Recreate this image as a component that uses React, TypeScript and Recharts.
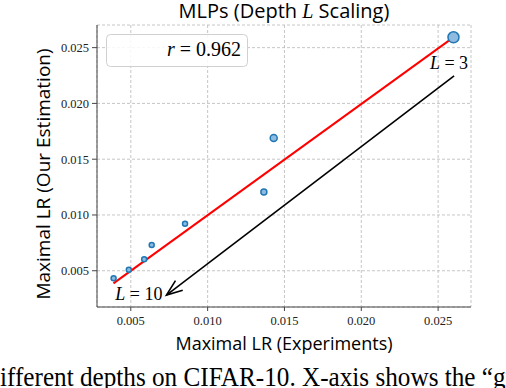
import React from 'react';
import {
  ScatterChart,
  Scatter,
  XAxis,
  YAxis,
  CartesianGrid,
  ReferenceLine,
  ReferenceArea,
  Label,
} from 'recharts';

// Measured depths L = 3 .. 10
const depths = [3, 4, 5, 6, 7, 8, 9, 10];
const lrExperiments = [0.026, 0.0143, 0.01366, 0.00853, 0.00636, 0.00587, 0.00487, 0.00388];
const lrEstimated = [0.02593, 0.0169, 0.01206, 0.00922, 0.0073, 0.00602, 0.00509, 0.00432];

// linear fit (red)
const fitX = [0.00387, 0.02597];
const fitY = [0.00387, 0.0259];

// depth arrow: from L = 3 to L = 10
const arrowX = [0.02604, 0.00732];
const arrowY = [0.02246, 0.00282];

const xTicks = [0.005, 0.01, 0.015, 0.02, 0.025];
const yTicks = [0.005, 0.01, 0.015, 0.02, 0.025];

const pearsonR = '0.962';

const points = depths.map((d, i) => ({ depth: d, x: lrExperiments[i], y: lrEstimated[i] }));

const SERIF = '"Liberation Serif", "DejaVu Serif", serif';
const SANS = '"Open Sans", Lato, "DejaVu Sans", sans-serif';

const tickFmt = (v: number) => v.toFixed(3);

const Marker = (props: any) => {
  const { cx, cy, index } = props;
  const r = index === 0 ? 5.5 : index === 1 ? 3.5 : index === 2 ? 3 : 2.5;
  return (
    <g>
      <circle cx={cx} cy={cy} r={r} fill="#8fbbe0" stroke="#1f77b4" strokeWidth={1.5} />
    </g>
  );
};

const ArrowShape = (props: any) => {
  const { x1, y1, x2, y2 } = props;
  const ang = Math.atan2(y1 - y2, x1 - x2);
  const len = 17;
  const spread = 0.36;
  const w1x = x2 + len * Math.cos(ang + spread);
  const w1y = y2 + len * Math.sin(ang + spread);
  const w2x = x2 + len * Math.cos(ang - spread);
  const w2y = y2 + len * Math.sin(ang - spread);
  return (
    <g>
      <line x1={x1} y1={y1} x2={x2} y2={y2} stroke="#000" strokeWidth={1.6} />
      <polyline
        points={`${w1x},${w1y} ${x2},${y2} ${w2x},${w2y}`}
        fill="none"
        stroke="#000"
        strokeWidth={1.6}
      />
      <text x={x1 + 14} y={y1 - 7} textAnchor="end" fontFamily={SERIF} fontSize={18} fill="#000">
        <tspan fontStyle="italic">L</tspan> = 3
      </text>
      <text x={x2 - 4} y={y2 + 5} textAnchor="end" fontFamily={SERIF} fontSize={18} fill="#000">
        <tspan fontStyle="italic">L</tspan> = 10
      </text>
    </g>
  );
};

const YLabel = (props: any) => {
  const { viewBox } = props;
  const cy = viewBox.y + viewBox.height / 2 + 8;
  return (
    <text
      x={50}
      y={cy}
      transform={`rotate(-90, 50, ${cy})`}
      textAnchor="middle"
      fontFamily={SANS}
      fontSize={19}
      fill="#000"
    >
      Maximal LR (Our Estimation)
    </text>
  );
};

export default function App() {
  return (
    <div style={{ position: 'absolute', left: 0, top: 0, width: 506, height: 388, overflow: 'hidden', background: '#fff' }}>
      <ScatterChart width={506} height={388} margin={{ top: 25, right: 35, bottom: 31, left: 0 }}>
        <CartesianGrid stroke="#b8b8b8" strokeDasharray="3 2" strokeWidth={0.8} />
        <XAxis
          type="number"
          dataKey="x"
          domain={[0.0028, 0.02714]}
          ticks={xTicks}
          tickFormatter={tickFmt}
          allowDataOverflow
          height={50}
          tickSize={4}
          tickMargin={5}
          stroke="#444"
          tick={{ fontFamily: SERIF, fontSize: 12.5, fill: '#222' }}
        >
          <Label
            value="Maximal LR (Experiments)"
            position="insideBottom"
            offset={7}
            style={{ fontFamily: SANS, fontSize: 18, fill: '#000' }}
          />
        </XAxis>
        <YAxis
          type="number"
          dataKey="y"
          domain={[0.00175, 0.02703]}
          ticks={yTicks}
          tickFormatter={tickFmt}
          allowDataOverflow
          width={97}
          tickSize={5}
          tickMargin={3}
          stroke="#444"
          tick={{ fontFamily: SERIF, fontSize: 12.5, fill: '#222' }}
        >
          <Label content={<YLabel />} />
        </YAxis>
        <ReferenceArea fill="none" stroke="#444" strokeWidth={1.5} />
        <ReferenceLine
          segment={[
            { x: arrowX[0], y: arrowY[0] },
            { x: arrowX[1], y: arrowY[1] },
          ]}
          shape={<ArrowShape />}
        />
        <ReferenceLine
          segment={[
            { x: fitX[0], y: fitY[0] },
            { x: fitX[1], y: fitY[1] },
          ]}
          stroke="#ff0000"
          strokeWidth={2}
        />
        <Scatter data={points} isAnimationActive={false} shape={<Marker />} />
      </ScatterChart>
      <svg width={506} height={388} style={{ position: 'absolute', left: 0, top: 0, pointerEvents: 'none' }}>
        <text x={284} y={18} textAnchor="middle" fontFamily={SANS} fontSize={20} fill="#000">
          MLPs (Depth <tspan fontFamily={SERIF} fontStyle="italic">L</tspan> Scaling)
        </text>
        <rect x={106.5} y={34.5} width={141} height={32} rx={4} fill="#fff" fillOpacity={0.85} stroke="#d0d0d0" />
        <text x={241} y={56} textAnchor="end" fontFamily={SERIF} fontSize={20} fill="#000">
          <tspan fontStyle="italic">r</tspan> = {pearsonR}
        </text>
        <g transform="scale(0.9, 1)">
          <text x={0} y={386} fontFamily={SERIF} fontSize={28} fill="#000">
            ifferent depths on CIFAR-10. X-axis shows the “gr
          </text>
        </g>
      </svg>
    </div>
  );
}
